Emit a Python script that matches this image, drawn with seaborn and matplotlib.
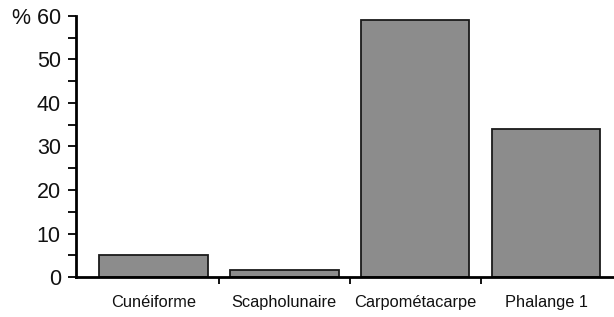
import matplotlib
matplotlib.use("Agg")
import matplotlib.pyplot as plt
import seaborn as sns
import pandas as pd
import numpy as np

categories = ["Cunéiforme", "Scapholunaire", "Carpométacarpe", "Phalange 1"]
values = [5, 1.6, 59, 34]
yticks = [0, 10, 20, 30, 40, 50, 60]
ytick_labels = ["0", "10", "20", "30", "40", "50", "% 60"]

sns.set_style("white")
plt.rcParams['font.family'] = ['Liberation Sans', 'DejaVu Sans']

df = pd.DataFrame({"cat": categories, "val": values})

fig = plt.figure(figsize=(6.14, 3.17), dpi=100)
ax = fig.add_axes([0.124, 0.126, 0.876, 0.824])
sns.barplot(data=df, x="cat", y="val", ax=ax, color="#8c8c8c", saturation=1,
            width=0.83, edgecolor="#1a1a1a", linewidth=1.3)

ax.set_xlim(-0.59, 3.52)
ax.set_ylim(0, 60)
ax.set_xlabel("")
ax.set_ylabel("")
ax.set_yticks(yticks)
ax.set_yticklabels(ytick_labels, fontsize=15.5, color="#111111")
ax.set_yticks(np.arange(5, 60, 10), minor=True)
ax.tick_params(axis='y', which='both', direction='out', length=6, width=1.3, color='black', pad=5, left=True)
ax.set_xticks(range(len(categories)))
ax.set_xticklabels(categories, fontsize=11.8, color="#111111")
ax.tick_params(axis='x', which='major', length=0, pad=13)
ax.set_xticks([0.5, 1.5, 2.5], minor=True)
ax.tick_params(axis='x', which='minor', direction='out', length=5, width=1.3, color='black', bottom=True)

for s in ["top", "right"]:
    ax.spines[s].set_visible(False)
for s in ["left", "bottom"]:
    ax.spines[s].set_color("black")
    ax.spines[s].set_linewidth(2)
ax.spines["left"].set_bounds(0, 60)

fig.savefig("out.png", dpi=100)
